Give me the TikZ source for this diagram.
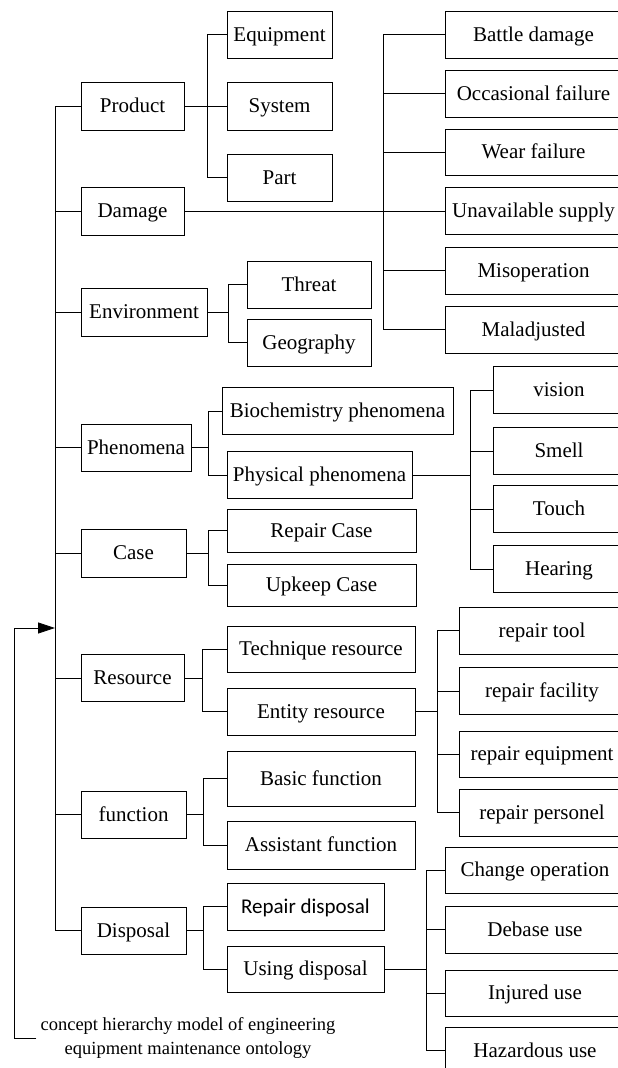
\documentclass[tikz,border=0pt]{standalone}
\usepackage{fontspec}
\setmainfont{Liberation Serif}
\newfontfamily\labelsans{Carlito}
\usetikzlibrary{arrows.meta}
\begin{document}
\begin{tikzpicture}[x=1pt,y=-1pt,
  box/.style={draw, line width=0.8pt, inner sep=0pt,
    font=\rmfamily\fontsize{21}{25}\selectfont, text height=13pt, text depth=0pt},
  wire/.style={line width=0.8pt},
]
\fill[white] (0,0) rectangle (618,1068);
\useasboundingbox (0,0) rectangle (618,1068);
\clip (0,0) rectangle (618,1068);

% ---- first level ----
\node[box, minimum width=103pt, minimum height=48pt] (product)  at (132.5,106)   {Product};
\node[box, minimum width=103pt, minimum height=48pt] (damage)   at (132.5,211)   {Damage};
\node[box, minimum width=126pt, minimum height=48pt] (env)      at (144,312)     {Environment};
\node[box, minimum width=110pt, minimum height=47pt] (phen)     at (136,447.5)   {Phenomena};
\node[box, minimum width=105pt, minimum height=48pt] (case)     at (133.5,553)   {Case};
\node[box, minimum width=103pt, minimum height=47pt] (resource) at (132.5,678)   {Resource};
\node[box, minimum width=105pt, minimum height=47pt] (func)     at (133.5,814.5) {function};
\node[box, minimum width=105pt, minimum height=47pt] (disposal) at (133.5,930.5) {Disposal};

% ---- second level ----
\node[box, minimum width=105pt, minimum height=47pt] (equip)  at (279.5,34.5)  {Equipment};
\node[box, minimum width=105pt, minimum height=48pt] (system) at (279.5,106)   {System};
\node[box, minimum width=105pt, minimum height=47pt] (part)   at (279.5,177.5) {Part};
\node[box, minimum width=124pt, minimum height=47pt] (threat) at (309,284.5)   {Threat};
\node[box, minimum width=124pt, minimum height=47pt] (geo)    at (309,342.5)   {Geography};
\node[box, minimum width=231pt, minimum height=47pt] (bio)    at (337.5,411)   {Biochemistry phenomena};
\node[box, minimum width=185pt, minimum height=47pt] (phys)   at (319.5,475)   {Physical phenomena};
\node[box, minimum width=189pt, minimum height=43pt] (rcase)  at (321.5,530.5) {Repair Case};
\node[box, minimum width=189pt, minimum height=42pt] (ucase)  at (321.5,585)   {Upkeep Case};
\node[box, minimum width=188pt, minimum height=46pt] (tech)   at (321,649)     {Technique resource};
\node[box, minimum width=188pt, minimum height=47pt] (entity) at (321,711.5)   {Entity resource};
\node[box, minimum width=188pt, minimum height=55pt] (basic)  at (321,778.5)   {Basic function};
\node[box, minimum width=188pt, minimum height=48pt] (assist) at (321,845)     {Assistant function};
\node[box, minimum width=157pt, minimum height=47pt, font=\labelsans\fontsize{21}{25}\selectfont] (rdisp) at (305.5,906.5) {Repair disposal};
\node[box, minimum width=157pt, minimum height=46pt] (udisp)  at (305.5,969)   {Using disposal};

% ---- third level: damage kinds ----
\node[box, minimum width=177pt, minimum height=47pt] (battle) at (533.5,34.5)  {Battle damage};
\node[box, minimum width=177pt, minimum height=47pt] (occ)    at (533.5,93.5)  {Occasional failure};
\node[box, minimum width=177pt, minimum height=46pt] (wear)   at (533.5,152)   {Wear failure};
\node[box, minimum width=177pt, minimum height=47pt] (unav)   at (533.5,211)   {Unavailable supply};
\node[box, minimum width=177pt, minimum height=47pt] (misop)  at (533.5,270.5) {Misoperation};
\node[box, minimum width=177pt, minimum height=47pt] (malad)  at (533.5,329.5) {Maladjusted};

% ---- senses ----
\node[box, minimum width=132pt, minimum height=47pt] (vision)  at (559,390) {vision};
\node[box, minimum width=132pt, minimum height=47pt] (smell)   at (559,451) {Smell};
\node[box, minimum width=132pt, minimum height=47pt] (touch)   at (559,509) {Touch};
\node[box, minimum width=132pt, minimum height=47pt] (hearing) at (559,569) {Hearing};

% ---- entity resources ----
\node[box, minimum width=166pt, minimum height=47pt] (tool)     at (542,630.5) {repair tool};
\node[box, minimum width=166pt, minimum height=47pt] (facility) at (542,691)   {repair facility};
\node[box, minimum width=166pt, minimum height=46pt] (requip)   at (542,754)   {repair equipment};
\node[box, minimum width=166pt, minimum height=47pt] (personel) at (542,812.5) {repair personel};

% ---- kinds of use ----
\node[box, minimum width=180pt, minimum height=46pt] (change)  at (535,870)    {Change operation};
\node[box, minimum width=180pt, minimum height=47pt] (debase)  at (535,929.5)  {Debase use};
\node[box, minimum width=180pt, minimum height=46pt] (injured) at (535,993)    {Injured use};
\node[box, minimum width=180pt, minimum height=47pt] (hazard)  at (535,1050.5) {Hazardous use};

% ---- root label ----
\node[font=\rmfamily\fontsize{18.5}{24}\selectfont, align=center, inner sep=4pt] (root) at (188,1038)
  {concept hierarchy model of engineering\\equipment maintenance ontology};

% ---- bus lines ----
\coordinate (b0)  at (55,0);
\coordinate (b1)  at (207,0);
\coordinate (b2)  at (383,0);
\coordinate (b3)  at (228,0);
\coordinate (b4)  at (208,0);
\coordinate (b5)  at (470,0);
\coordinate (b6)  at (208,0);
\coordinate (b7)  at (202,0);
\coordinate (b8)  at (437,0);
\coordinate (b9)  at (203,0);
\coordinate (b10) at (203,0);
\coordinate (b11) at (426,0);
\coordinate (loop) at (14,628);

% trunk
\draw[wire] (product.west) -- (b0 |- product.west) -- (b0 |- disposal.west) -- (disposal.west);
\foreach \n in {damage,env,phen,case,resource,func}
  \draw[wire] (\n.west) -- (b0 |- \n.west);

% product
\draw[wire] (product.east) -- (system.west);
\draw[wire] (equip.west) -- (b1 |- equip.west) -- (b1 |- part.west) -- (part.west);

% damage
\draw[wire] (damage.east) -- (unav.west);
\draw[wire] (battle.west) -- (b2 |- battle.west) -- (b2 |- malad.west) -- (malad.west);
\foreach \n in {occ,wear,misop}
  \draw[wire] (\n.west) -- (b2 |- \n.west);

% environment
\draw[wire] (env.east) -- (b3 |- env.east);
\draw[wire] (threat.west) -- (b3 |- threat.west) -- (b3 |- geo.west) -- (geo.west);

% phenomena
\draw[wire] (phen.east) -- (b4 |- phen.east);
\draw[wire] (bio.west) -- (b4 |- bio.west) -- (b4 |- phys.west) -- (phys.west);
\draw[wire] (phys.east) -- (b5 |- phys.east);
\draw[wire] (vision.west) -- (b5 |- vision.west) -- (b5 |- hearing.west) -- (hearing.west);
\foreach \n in {smell,touch}
  \draw[wire] (\n.west) -- (b5 |- \n.west);

% case
\draw[wire] (case.east) -- (b6 |- case.east);
\draw[wire] (rcase.west) -- (b6 |- rcase.west) -- (b6 |- ucase.west) -- (ucase.west);

% resource
\draw[wire] (resource.east) -- (b7 |- resource.east);
\draw[wire] (tech.west) -- (b7 |- tech.west) -- (b7 |- entity.west) -- (entity.west);
\draw[wire] (entity.east) -- (b8 |- entity.east);
\draw[wire] (tool.west) -- (b8 |- tool.west) -- (b8 |- personel.west) -- (personel.west);
\foreach \n in {facility,requip}
  \draw[wire] (\n.west) -- (b8 |- \n.west);

% function
\draw[wire] (func.east) -- (b9 |- func.east);
\draw[wire] (basic.west) -- (b9 |- basic.west) -- (b9 |- assist.west) -- (assist.west);

% disposal
\draw[wire] (disposal.east) -- (b10 |- disposal.east);
\draw[wire] (rdisp.west) -- (b10 |- rdisp.west) -- (b10 |- udisp.west) -- (udisp.west);
\draw[wire] (udisp.east) -- (b11 |- udisp.east);
\draw[wire] (change.west) -- (b11 |- change.west) -- (b11 |- hazard.west) -- (hazard.west);
\foreach \n in {debase,injured}
  \draw[wire] (\n.west) -- (b11 |- \n.west);

% root feeds back into the trunk
\draw[wire, -{Triangle[length=17pt,width=11pt]}] (root.west) -| (loop) -- (loop -| b0);
\end{tikzpicture}
\end{document}
